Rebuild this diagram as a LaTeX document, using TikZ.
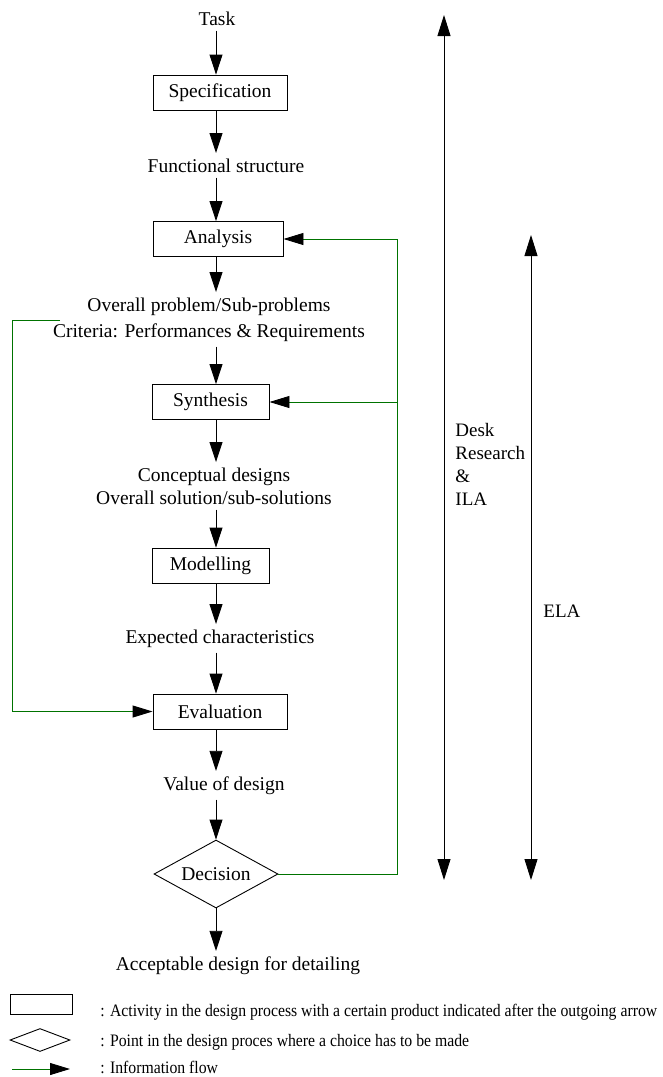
\documentclass[tikz,border=0pt]{standalone}
\usepackage{fontspec}
\setmainfont{Liberation Serif}
\newfontfamily\legfont{Liberation Serif}[FakeStretch=0.9]
\usetikzlibrary{arrows.meta,shapes.geometric}
\newcommand{\flowsz}{\rmfamily\fontsize{19.5}{23}\selectfont}
\newcommand{\sidesz}{\rmfamily\fontsize{19}{23}\selectfont}
\newcommand{\legsz}{\legfont\fontsize{17.5}{20}\selectfont}

\begin{document}
\begin{tikzpicture}[x=1pt,y=-1pt,line width=0.9pt,font=\flowsz,
	activity/.style={draw,rectangle,minimum height=35pt,inner sep=0pt},
	choice/.style={draw,diamond,aspect=1.8,inner sep=0pt},
	product/.style={inner xsep=0pt,inner ysep=5pt,anchor=base,align=center},
	stage/.style={-{Triangle[length=20pt,width=13pt]}},
	infoline/.style={draw=green!45!black},
	info/.style={infoline,-{Triangle[length=20pt,width=12pt,color=black]}},
	span/.style={{Triangle[length=21pt,width=13pt]}-{Triangle[length=21pt,width=13pt]}},
	legtext/.style={anchor=base west,inner sep=0pt,font=\legsz}]
	\useasboundingbox (0,0) rectangle (662,1077);
	\coordinate (col) at (216,0);

	\node [product] (task) at (217,25) {Task};
	\node [activity,minimum width=134pt] (spec) at (220,92.5) {Specification};
	\node [product] (func) at (226,172) {Functional structure};
	\node [activity,minimum width=130pt] (ana) at (218,239) {Analysis};
	\node [product] (prob) at (209,337) {Overall problem/Sub-problems\\[3pt]Criteria: Performances \& Requirements};
	\node [activity,minimum width=117pt] (syn) at (210.5,402) {Synthesis};
	\node [product] (conc) at (214,504) {Conceptual designs\\Overall solution/sub-solutions};
	\node [activity,minimum width=117pt] (mod) at (210.5,565.5) {Modelling};
	\node [product] (exp) at (220,643) {Expected characteristics};
	\node [activity,minimum width=134pt] (eva) at (220,711.5) {Evaluation};
	\node [product] (val) at (224,790) {Value of design};
	\node [choice,minimum width=124pt,minimum height=68pt] (dec) at (216,874) {Decision};
	\node [product] (acc) at (238,970) {Acceptable design for detailing};

	\foreach \a/\b in {task/spec,spec/func,func/ana,ana/prob,prob/syn,syn/conc,conc/mod,mod/exp,exp/eva,eva/val,val/dec,dec/acc}
		\draw [stage] (\a.south -| col) -- (\b.north -| col);

	\coordinate (fbx) at (397,0);
	\draw [infoline] (dec.east) -- (dec.east -| fbx) -- (ana.east -| fbx);
	\draw [info] (ana.east -| fbx) -- (ana.east);
	\draw [info] (syn.east -| fbx) -- (syn.east);
	\coordinate (lp) at (60,320); \coordinate (lx) at (12,0);
	\draw [info] (lp) -- (lp -| lx) |- (eva.west);

	\coordinate (dtop) at (444,15); \coordinate (dbot) at (444,880);
	\coordinate (etop) at (531,235); \coordinate (ebot) at (531,880);
	\draw [span] (dtop) -- (dbot);
	\draw [span] (etop) -- (ebot);
	\node [anchor=base west,inner sep=0pt,align=left,font=\sidesz] (desk) at (455,505) {Desk\\Research\\\&\\ILA};
	\node [anchor=base west,inner sep=0pt,font=\sidesz] (ela) at (543,617) {ELA};

	\node [activity,minimum width=62pt,minimum height=20pt] (legact) at (41,1004) {};
	\node [choice,minimum width=60pt,minimum height=23pt] (legdec) at (40,1040) {};
	\coordinate (lgs) at (12,1069); \coordinate (lge) at (70,1069);
	\draw [info] (lgs) -- (lge);
	\node [legtext] (legt1) at (100,1016) {: Activity in the design process with a certain product indicated after the outgoing arrow};
	\node [legtext] (legt2) at (100,1046) {: Point in the design proces where a choice has to be made};
	\node [legtext] (legt3) at (100,1073) {: Information flow};
\end{tikzpicture}
\end{document}
